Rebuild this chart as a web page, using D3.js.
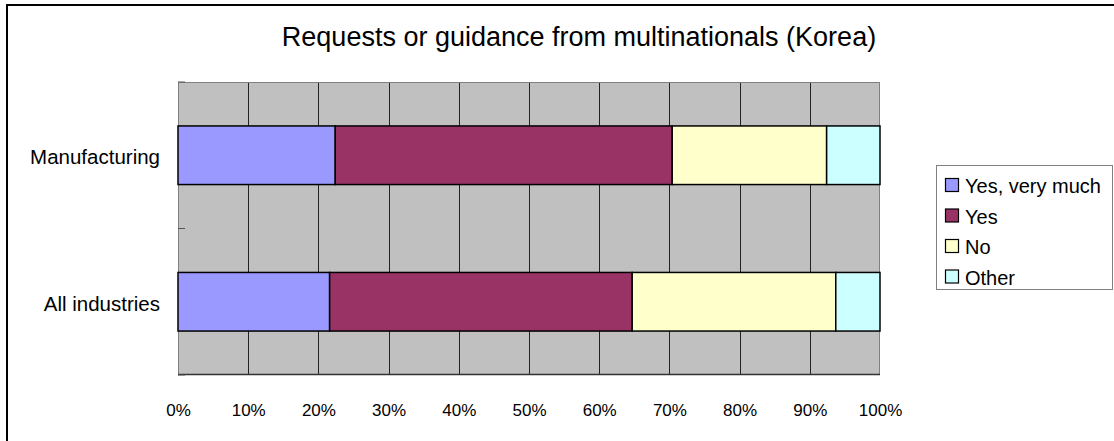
<!DOCTYPE html>
<html>
<head>
<meta charset="utf-8">
<script src="https://cdn.jsdelivr.net/npm/d3@7/dist/d3.min.js"></script>
<style>
  html, body { margin: 0; padding: 0; background: #fff; }
  svg { display: block; font-family: "Liberation Sans", Arial, sans-serif; }
</style>
</head>
<body>
<svg id="chart" width="1114" height="441"></svg>
<script>
const title = "Requests or guidance from multinationals (Korea)";
const categories = ["Manufacturing", "All industries"];
const seriesNames = ["Yes, very much", "Yes", "No", "Other"];
const seriesColors = ["#9999ff", "#993366", "#ffffcc", "#ccffff"];
const yesVeryMuch = [22.4, 21.6];
const yes = [48.0, 43.1];
const no = [22.0, 29.0];
const other = [7.6, 6.3];
const tickValues = [0, 10, 20, 30, 40, 50, 60, 70, 80, 90, 100];

const seriesValues = [yesVeryMuch, yes, no, other];
const rows = categories.map((c, i) => {
  const r = { category: c };
  seriesNames.forEach((s, j) => r[s] = seriesValues[j][i]);
  return r;
});

const svg = d3.select("#chart");
const W = 1114, H = 441;

// outer frame (left + top visible)
svg.append("line").attr("x1", 7).attr("x2", 7).attr("y1", 4).attr("y2", H).attr("stroke", "#000").attr("stroke-width", 2);
svg.append("line").attr("x1", 6).attr("x2", W).attr("y1", 5).attr("y2", 5).attr("stroke", "#000").attr("stroke-width", 2);

const plot = { left: 178, right: 880, top: 82, bottom: 375 };

const x = d3.scaleLinear().domain([0, 100]).range([plot.left, plot.right]);
const y = d3.scaleBand().domain(categories).range([plot.top, plot.bottom]).paddingInner(0).paddingOuter(0);

// plot background
svg.append("rect")
  .attr("x", plot.left).attr("y", plot.top)
  .attr("width", plot.right - plot.left).attr("height", plot.bottom - plot.top)
  .attr("fill", "#c0c0c0");

// gridlines
svg.append("g").selectAll("line")
  .data(tickValues.slice(1, -1))
  .join("line")
  .attr("x1", d => Math.round(x(d)) + 0.5).attr("x2", d => Math.round(x(d)) + 0.5)
  .attr("y1", plot.top).attr("y2", plot.bottom)
  .attr("stroke", "#222").attr("stroke-width", 1);

// plot border
svg.append("rect")
  .attr("x", plot.left + 0.5).attr("y", plot.top + 0.5)
  .attr("width", plot.right - plot.left - 1).attr("height", plot.bottom - plot.top - 1)
  .attr("fill", "none").attr("stroke", "#808080").attr("stroke-width", 1);
svg.append("line")
  .attr("x1", plot.left).attr("x2", plot.right)
  .attr("y1", plot.bottom - 0.5).attr("y2", plot.bottom - 0.5)
  .attr("stroke", "#333").attr("stroke-width", 1.5);

// stacked bars
const stack = d3.stack().keys(seriesNames);
const stacked = stack(rows);
const barH = y.bandwidth() * 0.4;
const layers = svg.append("g").selectAll("g")
  .data(stacked)
  .join("g")
  .attr("fill", (d, i) => seriesColors[i]);
layers.selectAll("rect")
  .data(d => d)
  .join("rect")
  .attr("x", d => x(d[0]))
  .attr("width", d => x(d[1]) - x(d[0]))
  .attr("y", d => y(d.data.category) + (y.bandwidth() - barH) / 2)
  .attr("height", barH)
  .attr("stroke", "#000").attr("stroke-width", 1.5);

// category axis ticks (band boundaries, inward)
const boundaries = [plot.top, ...categories.map(c => y(c) + y.bandwidth())];
svg.append("g").selectAll("line")
  .data(boundaries)
  .join("line")
  .attr("x1", plot.left).attr("x2", plot.left + 7)
  .attr("y1", d => d).attr("y2", d => d)
  .attr("stroke", "#555").attr("stroke-width", 1);

// category labels
svg.append("g").selectAll("text")
  .data(categories)
  .join("text")
  .attr("x", 160)
  .attr("y", d => y(d) + y.bandwidth() / 2 + 2)
  .attr("dy", "0.35em")
  .attr("text-anchor", "end")
  .attr("font-size", 20.5)
  .attr("fill", "#000")
  .text(d => d);

// x-axis labels
const xAxis = d3.axisBottom(x).tickValues(tickValues).tickSize(0).tickPadding(0).tickFormat(d => d + "%");
const gx = svg.append("g").attr("transform", `translate(0, ${plot.bottom + 29})`).call(xAxis);
gx.select(".domain").remove();
gx.selectAll("text").attr("font-size", 17).attr("font-family", "'Liberation Sans', Arial, sans-serif").attr("fill", "#000");

// title
svg.append("text")
  .attr("x", 579).attr("y", 46)
  .attr("text-anchor", "middle")
  .attr("font-size", 27)
  .attr("fill", "#000")
  .text(title);

// legend
const lg = svg.append("g");
lg.append("rect")
  .attr("x", 936.5).attr("y", 165.5).attr("width", 176).attr("height", 124)
  .attr("fill", "#fff").attr("stroke", "#808080").attr("stroke-width", 1);
const items = lg.selectAll("g.item")
  .data(seriesNames)
  .join("g")
  .attr("class", "item")
  .attr("transform", (d, i) => `translate(945, ${185 + i * 30.5})`);
items.append("rect")
  .attr("x", 0.5).attr("y", -6.5).attr("width", 13).attr("height", 13)
  .attr("fill", (d, i) => seriesColors[i])
  .attr("stroke", "#000").attr("stroke-width", 1.2);
items.append("text")
  .attr("x", 20).attr("y", 1).attr("dy", "0.35em")
  .attr("font-size", 20)
  .attr("fill", "#000")
  .text(d => d);
</script>
</body>
</html>
